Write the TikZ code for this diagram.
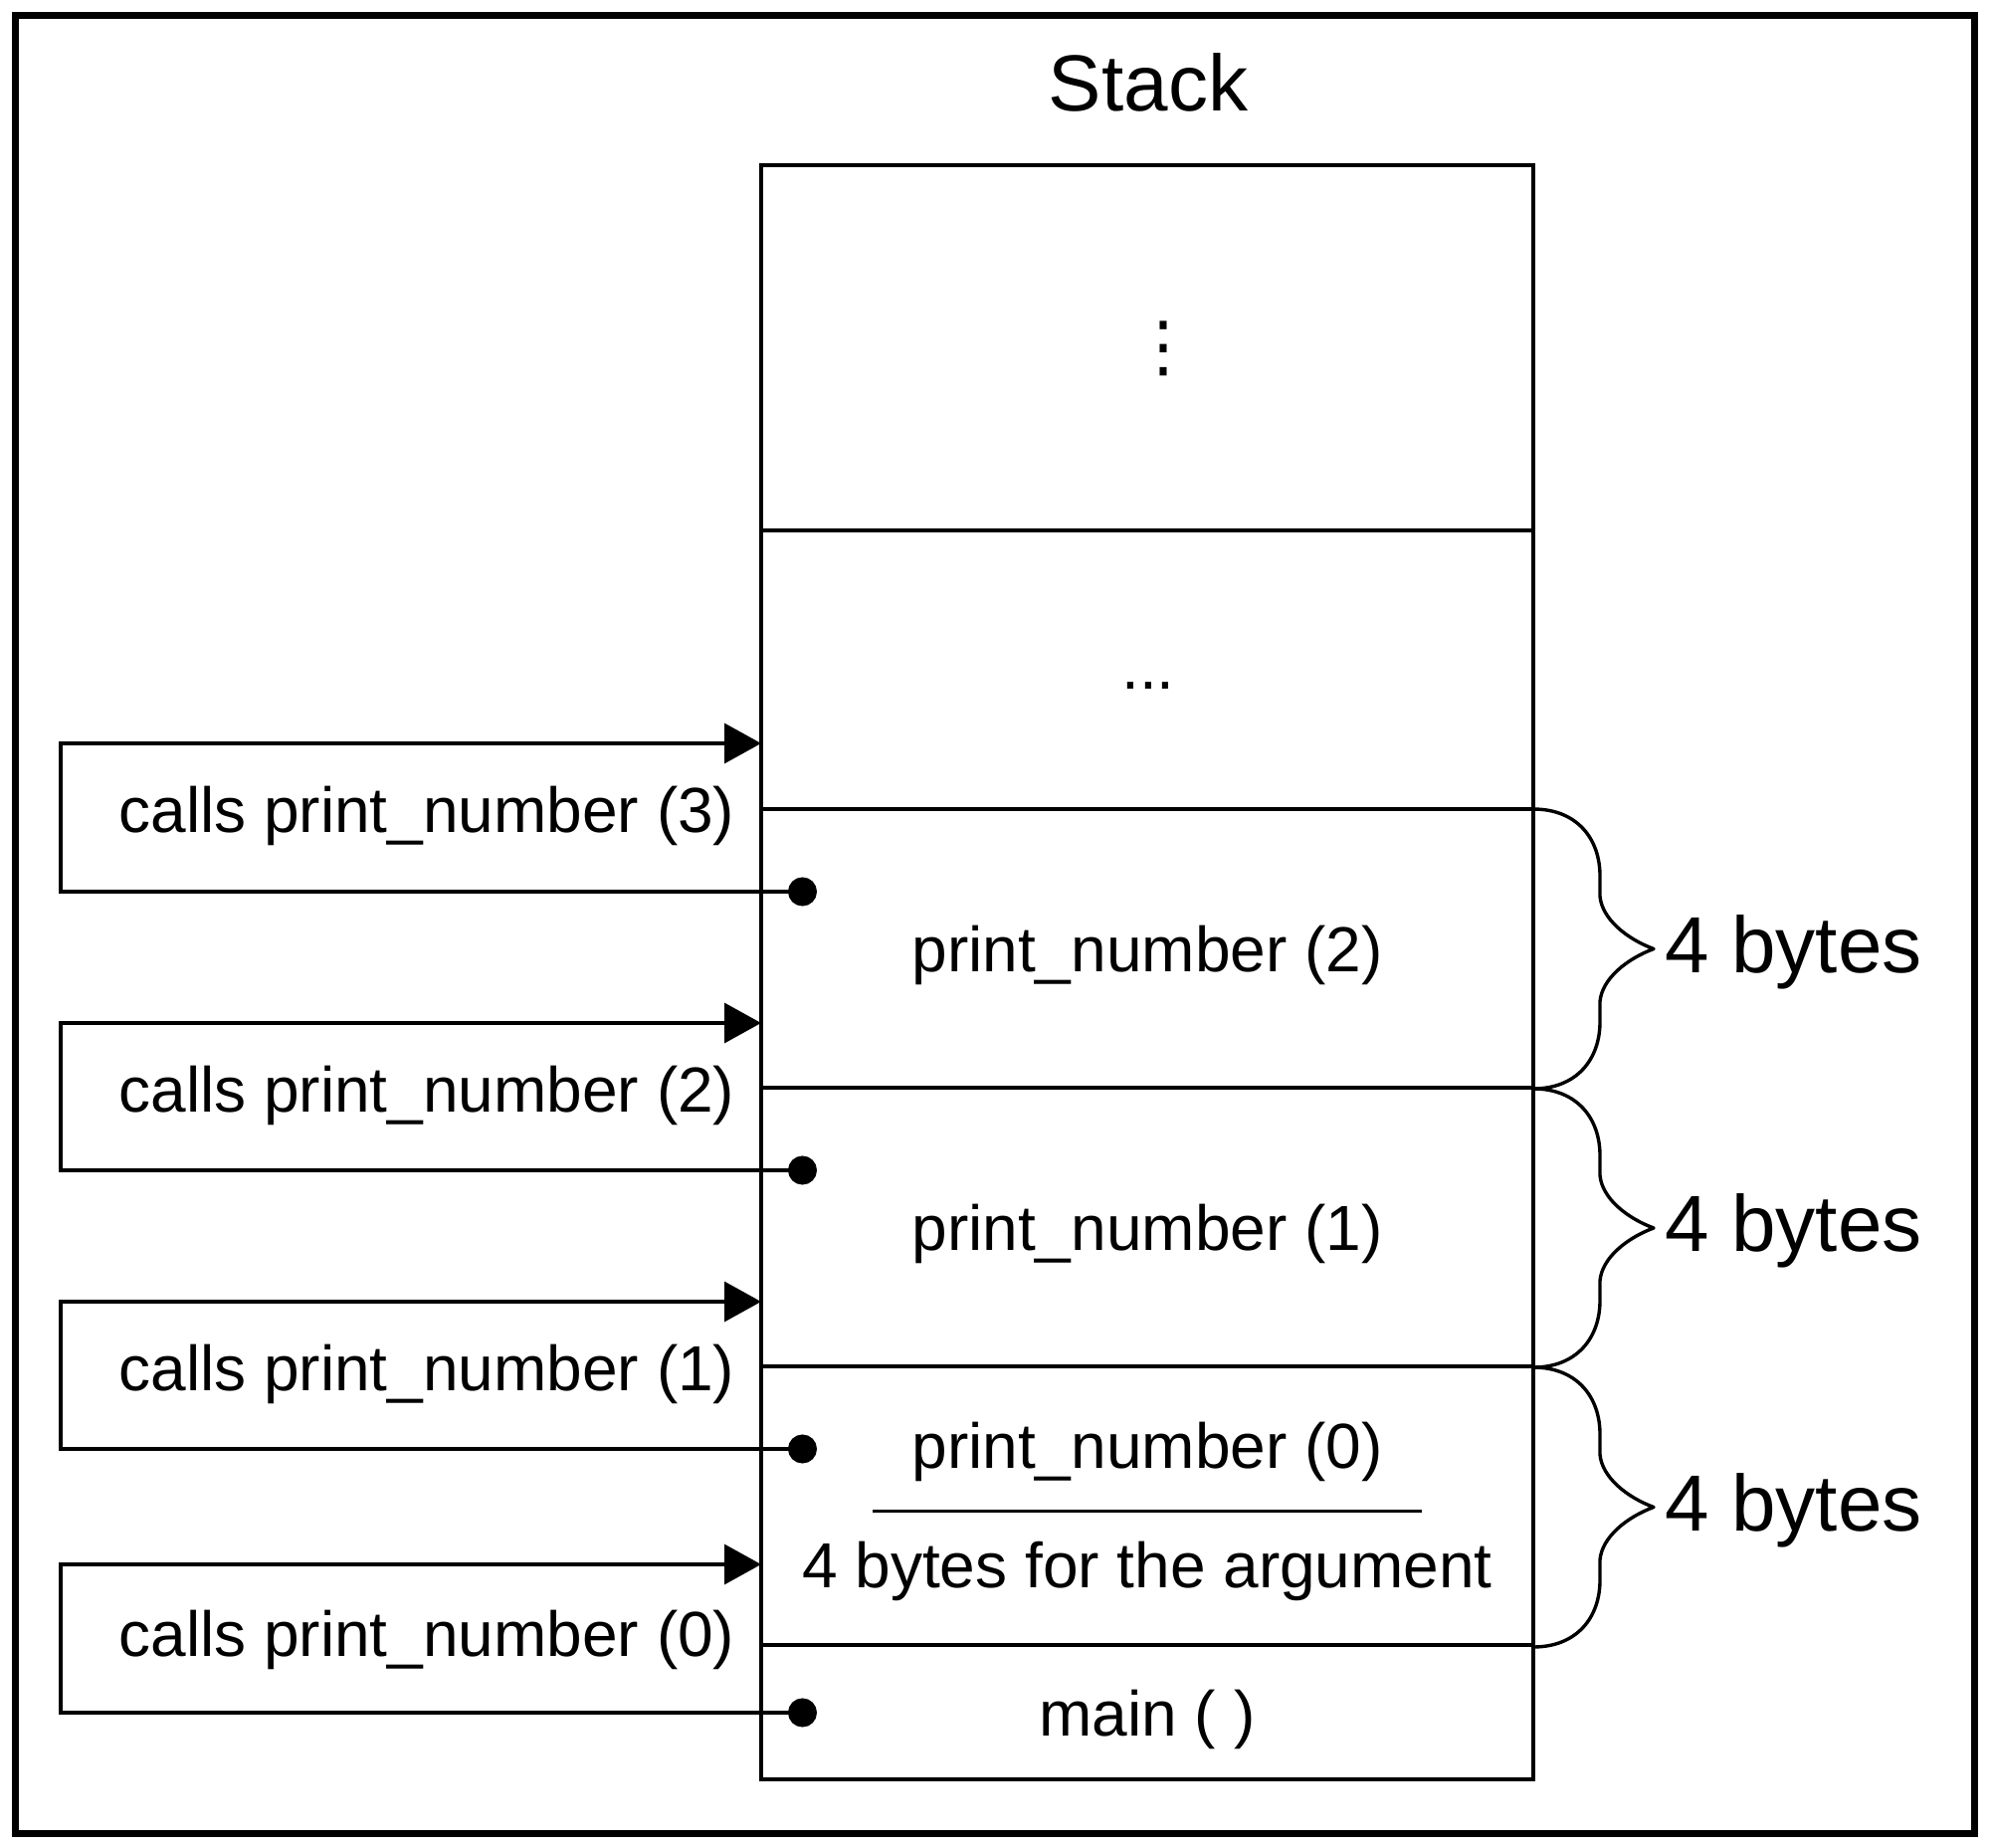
\documentclass[tikz,border=0pt]{standalone}
\usepackage{fontspec}
\setmainfont{Liberation Sans}
\newfontfamily\symfont{DejaVu Sans}
\usetikzlibrary{arrows.meta,positioning}

\begin{document}
\begin{tikzpicture}[x=0.5pt,y=-0.5pt,line width=1.7pt,
  cell/.style={draw,minimum width=388pt,outer sep=0pt,inner sep=0pt},
  txt/.style={font=\fontsize{32}{38}\selectfont,inner sep=0pt,yshift=-3.5pt},
  big/.style={font=\fontsize{40}{48}\selectfont,inner sep=0pt},
  callpath/.style={{Circle[length=14.5pt]}-{Triangle[length=18.5pt,width=20pt]}},
  curly/.style={line join=round}]
\useasboundingbox (0,0) rectangle (1999,1857);
\draw[line width=3.5pt] (15,16) rectangle (1984,1842);

% the stack, top to bottom
\node[big] (title) at (1154,83) {Stack};
\node[cell,minimum height=183.5pt,anchor=north] (free) at (1153,166) {};
\node[cell,minimum height=140pt,below=0pt of free] (caller) {};
\node[cell,minimum height=140pt,below=0pt of caller] (pn2) {};
\node[cell,minimum height=140pt,below=0pt of pn2] (pn1) {};
\node[cell,minimum height=140pt,below=0pt of pn1] (pn0) {};
\node[cell,minimum height=67.5pt,below=0pt of pn0] (mainfn) {};

\node[inner sep=0pt,font=\symfont\fontsize{34}{40}\selectfont] (vdots) at (1169,350) {⋮};
\node[txt] (hdots) at (1154,682) {...};
\node[txt] (pn2name) at (pn2.center) {print\_number (2)};
\node[txt] (pn1name) at (pn1.center) {print\_number (1)};
\node[txt] (mainname) at (mainfn.center) {main ( )};

\node[txt] (pn0name) at ([yshift=30.75pt]pn0.center) {print\_number (0)};
\node[txt] (pn0arg) at ([yshift=-29.25pt]pn0.center) {4 bytes for the argument};
\coordinate (sepl) at ([xshift=-138pt,yshift=-2.75pt]pn0.center);
\coordinate (sepr) at ([xshift=138pt,yshift=-2.75pt]pn0.center);
\draw (sepl) -- (sepr);

% calls and returns
\foreach \n/\t/\b/\l in {3/747/896/813, 2/1028/1176/1094, 1/1308/1456/1374, 0/1572/1721/1641}{
  \coordinate (in\n) at (765,\t);
  \coordinate (ret\n) at (821,\b);
  \node[txt] (call\n) at (429,\l) {calls print\_number (\n)};
  \draw[callpath] (ret\n) -- (61,\b) |- (in\n);
}

% frame sizes
\foreach \a/\c/\k in {813/1094/2, 1094/1374/1, 1374/1655/0}{
  \pgfmathsetmacro\m{(\a+\c)/2}
  \draw[curly] (1541,\a) .. controls (1585,\a) and (1608,\a+30) .. (1608,\a+67)
    -- (1608,\m-53) .. controls (1610,\m-30) and (1635,\m-10) .. (1662,\m)
    .. controls (1635,\m+10) and (1610,\m+30) .. (1608,\m+53)
    -- (1608,\c-67) .. controls (1608,\c-30) and (1585,\c) .. (1541,\c);
  \node[big,anchor=west,yshift=-1.5pt] (size\k) at (1672,\m) {4 bytes};
}
\end{tikzpicture}
\end{document}
